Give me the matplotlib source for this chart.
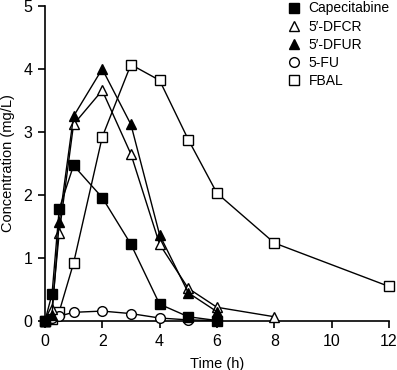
import matplotlib
matplotlib.use("Agg")
import matplotlib.pyplot as plt

plt.rcParams['font.family'] = ['Liberation Sans', 'DejaVu Sans']

# time points (h) and concentrations (mg/L)
t_cap = [0, 0.25, 0.5, 1, 2, 3, 4, 5, 6]
cap = [0.0, 0.43, 1.78, 2.47, 1.96, 1.22, 0.27, 0.07, 0.01]

t_dfcr = [0, 0.25, 0.5, 1, 2, 3, 4, 5, 6, 8]
dfcr = [0.0, 0.2, 1.4, 3.12, 3.66, 2.65, 1.22, 0.52, 0.22, 0.07]

t_dfur = [0, 0.25, 0.5, 1, 2, 3, 4, 5, 6]
dfur = [0.0, 0.1, 1.57, 3.25, 4.0, 3.12, 1.37, 0.45, 0.15]

t_fu = [0, 0.25, 0.5, 1, 2, 3, 4, 5, 6]
fu = [0.0, 0.05, 0.08, 0.14, 0.16, 0.12, 0.05, 0.02, 0.01]

t_fbal = [0, 0.25, 0.5, 1, 2, 3, 4, 5, 6, 8, 12]
fbal = [0.0, 0.04, 0.15, 0.92, 2.92, 4.07, 3.82, 2.88, 2.03, 1.24, 0.55]

fig = plt.figure(figsize=(3.97, 3.70), dpi=100)
ax = fig.add_axes([0.113, 0.132, 0.867, 0.852])

kw = dict(color='black', lw=1.0, markeredgewidth=1.0,
          markeredgecolor='black', clip_on=False)
ax.plot(t_fbal, fbal, marker='s', markersize=6.5, markerfacecolor='white', label='FBAL', zorder=2, **kw)
ax.plot(t_fu, fu, marker='o', markersize=7, markerfacecolor='white', label='5-FU', zorder=3, **kw)
ax.plot(t_dfcr, dfcr, marker='^', markersize=7.5, markerfacecolor='white', label='5\u2032-DFCR', zorder=4, **kw)
ax.plot(t_dfur, dfur, marker='^', markersize=7.5, markerfacecolor='black', label='5\u2032-DFUR', zorder=5, **kw)
ax.plot(t_cap, cap, marker='s', markersize=6.5, markerfacecolor='black', label='Capecitabine', zorder=6, **kw)

ax.set_xlim(0, 12)
ax.set_ylim(0, 5)
ax.set_xticks([0, 2, 4, 6, 8, 10, 12])
ax.set_yticks([0, 1, 2, 3, 4, 5])
ax.spines['top'].set_visible(False)
ax.spines['right'].set_visible(False)
ax.spines['left'].set_linewidth(1.2)
ax.spines['bottom'].set_linewidth(1.2)
ax.tick_params(direction='out', length=5, width=1.2, labelsize=11.5, pad=4)
ax.set_xlabel('Time (h)', fontsize=10.5, labelpad=6)
ax.set_ylabel('Concentration (mg/L)', fontsize=10.5, labelpad=6)

handles, labels = ax.get_legend_handles_labels()
order = [4, 2, 3, 1, 0]
ax.legend([handles[i] for i in order], [labels[i] for i in order],
          loc='upper left', bbox_to_anchor=(0.675, 1.045), frameon=False,
          fontsize=10, handlelength=1.0, handletextpad=0.55, labelspacing=0.3,
          borderpad=0.2)
for h in ax.get_legend().get_lines():
    h.set_linestyle('none')

fig.savefig('out.png', dpi=100)
